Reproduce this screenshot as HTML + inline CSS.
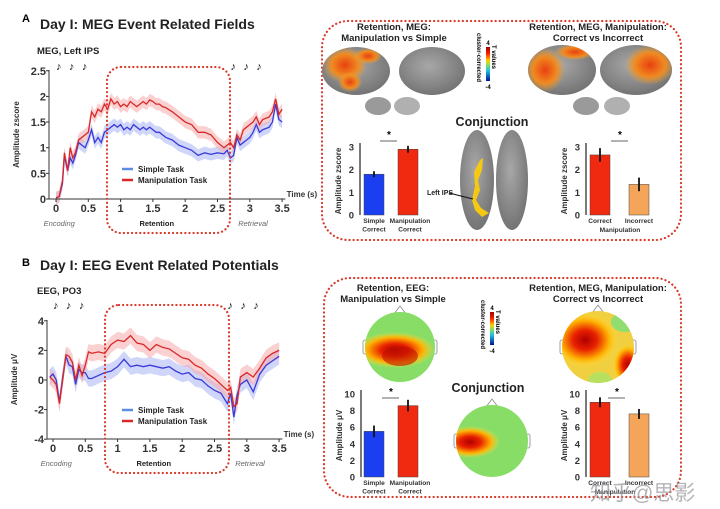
<!DOCTYPE html>
<html><head><meta charset="utf-8"><style>
html,body{margin:0;padding:0;background:#fff;}
svg{display:block;font-family:"Liberation Sans","Noto Sans CJK SC",sans-serif;}
.b{font-weight:bold;}
</style></head><body>
<svg id="fig" width="720" height="509" viewBox="0 0 720 509" xmlns="http://www.w3.org/2000/svg">
<defs>
<linearGradient id="cbar" x1="0" y1="0" x2="0" y2="1">
<stop offset="0" stop-color="#a00000"/><stop offset="0.2" stop-color="#ff2000"/><stop offset="0.4" stop-color="#ffd000"/><stop offset="0.55" stop-color="#70e070"/><stop offset="0.7" stop-color="#20c0e0"/><stop offset="1" stop-color="#0010a0"/>
</linearGradient>
<radialGradient id="brainG" cx="0.45" cy="0.4" r="0.65"><stop offset="0" stop-color="#a8a8a8"/><stop offset="1" stop-color="#707070"/></radialGradient>
<radialGradient id="hot" cx="0.5" cy="0.5" r="0.5"><stop offset="0" stop-color="#b00000"/><stop offset="0.35" stop-color="#e82000"/><stop offset="0.7" stop-color="#ffb000"/><stop offset="1" stop-color="#ffe040" stop-opacity="0"/></radialGradient>
<radialGradient id="orng" cx="0.5" cy="0.5" r="0.5"><stop offset="0" stop-color="#e84010"/><stop offset="0.6" stop-color="#f08a20"/><stop offset="1" stop-color="#f0a030" stop-opacity="0"/></radialGradient>
<clipPath id="h1"><circle cx="400" cy="347" r="35"/></clipPath>
<clipPath id="h2"><circle cx="598" cy="347" r="36"/></clipPath>
<clipPath id="h3"><circle cx="492" cy="441" r="36"/></clipPath>
<clipPath id="bA"><ellipse cx="356" cy="71" rx="34" ry="24"/></clipPath>
<clipPath id="bC"><ellipse cx="562" cy="70" rx="34" ry="25"/></clipPath>
<clipPath id="bD"><ellipse cx="636" cy="70" rx="36" ry="25"/></clipPath>
</defs>

<text x="22" y="22" font-size="11" class="b">A</text>
<text x="40" y="29" font-size="14" class="b" fill="#222">Day I: MEG Event Related Fields</text>
<text x="37" y="54" font-size="9.5" class="b" fill="#222">MEG, Left IPS</text>
<text x="22" y="266" font-size="11" class="b">B</text>
<text x="40" y="270" font-size="14" class="b" fill="#222">Day I: EEG Event Related Potentials</text>
<text x="37" y="294" font-size="9.5" class="b" fill="#222">EEG, PO3</text>

<g id="megChart"></g>
<g id="eegChart"></g>

<rect x="107" y="67" width="123" height="166" rx="14" fill="none" stroke="#d93a2a" stroke-width="2.2" stroke-dasharray="0.1 4" stroke-linecap="round"/>
<rect x="105" y="305" width="124" height="168" rx="14" fill="none" stroke="#d93a2a" stroke-width="2.2" stroke-dasharray="0.1 4" stroke-linecap="round"/>
<rect x="322" y="21" width="359" height="219" rx="26" fill="none" stroke="#d93a2a" stroke-width="2.2" stroke-dasharray="0.1 4" stroke-linecap="round"/>
<rect x="324" y="278" width="357" height="219" rx="26" fill="none" stroke="#d93a2a" stroke-width="2.2" stroke-dasharray="0.1 4" stroke-linecap="round"/>

<g font-size="9.5" class="b" fill="#222" text-anchor="middle">
<text x="394" y="30">Retention, MEG:</text>
<text x="394" y="41">Manipulation vs Simple</text>
<text x="598" y="30">Retention, MEG, Manipulation:</text>
<text x="598" y="41">Correct vs Incorrect</text>
<text x="492" y="126" font-size="12.5">Conjunction</text>
<text x="393" y="291">Retention, EEG:</text>
<text x="393" y="302">Manipulation vs Simple</text>
<text x="598" y="291">Retention, MEG, Manipulation:</text>
<text x="598" y="302">Correct vs Incorrect</text>
<text x="488" y="392" font-size="12.5">Conjunction</text>
</g>

<g>
<rect x="486" y="47" width="4" height="34" fill="url(#cbar)"/>
<text x="488" y="45" font-size="6" text-anchor="middle" class="b">4</text>
<text x="488" y="89" font-size="6" text-anchor="middle" class="b">-4</text>
<text transform="translate(492,45) rotate(90)" font-size="6" class="b">T values</text>
<text transform="translate(477,33) rotate(90)" font-size="6" class="b">cluster-corrected</text>
</g>
<g>
<rect x="490" y="312" width="4" height="33" fill="url(#cbar)"/>
<text x="492" y="310" font-size="6" text-anchor="middle" class="b">4</text>
<text x="492" y="353" font-size="6" text-anchor="middle" class="b">-4</text>
<text transform="translate(496,310) rotate(90)" font-size="6" class="b">T values</text>
<text transform="translate(481,300) rotate(90)" font-size="6" class="b">cluster-corrected</text>
</g>

<g>
<ellipse cx="356" cy="71" rx="34" ry="24" fill="url(#brainG)"/>
<g clip-path="url(#bA)"><ellipse cx="345" cy="65" rx="22" ry="18" fill="url(#orng)"/><ellipse cx="350" cy="82" rx="12" ry="10" fill="url(#orng)"/><ellipse cx="368" cy="56" rx="14" ry="8" fill="url(#orng)"/></g>
<ellipse cx="432" cy="71" rx="33" ry="24" fill="url(#brainG)"/>
<ellipse cx="378" cy="106" rx="13" ry="9" fill="#9a9a9a"/>
<ellipse cx="407" cy="106" rx="13" ry="9" fill="#b0b0b0"/>
</g>
<g>
<ellipse cx="562" cy="70" rx="34" ry="25" fill="url(#brainG)"/>
<g clip-path="url(#bC)"><ellipse cx="545" cy="70" rx="20" ry="22" fill="url(#orng)"/><ellipse cx="575" cy="52" rx="20" ry="8" fill="url(#orng)"/></g>
<ellipse cx="636" cy="70" rx="36" ry="25" fill="url(#brainG)"/>
<g clip-path="url(#bD)"><ellipse cx="650" cy="65" rx="25" ry="20" fill="url(#orng)"/></g>
<ellipse cx="586" cy="106" rx="13" ry="9" fill="#9a9a9a"/>
<ellipse cx="617" cy="106" rx="13" ry="9" fill="#b0b0b0"/>
</g>
<g>
<ellipse cx="477" cy="180" rx="17" ry="50" fill="url(#brainG)"/>
<ellipse cx="512" cy="180" rx="16" ry="50" fill="url(#brainG)"/>
<path d="M480,160 L483,158 482,170 478,180 480,190 476,200 481,208 489,213 482,217 475,210 472,200 475,186 474,172Z" fill="#f5c812"/>
<line x1="449" y1="193" x2="473" y2="199" stroke="#111" stroke-width="1"/>
<text x="427" y="195" font-size="7" class="b" fill="#222">Left IPS</text>
</g>

<g>
<path d="M394,314 L400,306 406,314Z" fill="#fff" stroke="#888" stroke-width="0.8"/>
<rect x="363" y="340" width="5" height="14" rx="2" fill="#fff" stroke="#888" stroke-width="0.8"/>
<rect x="432" y="340" width="5" height="14" rx="2" fill="#fff" stroke="#888" stroke-width="0.8"/>
<circle cx="400" cy="347" r="35" fill="#88dd66"/>
<g clip-path="url(#h1)"><ellipse cx="395" cy="350" rx="40" ry="18" fill="url(#hot)"/><ellipse cx="400" cy="356" rx="18" ry="10" fill="#c01000" opacity="0.6"/></g>
</g>
<g>
<path d="M592,313 L598,305 604,313Z" fill="#fff" stroke="#888" stroke-width="0.8"/>
<rect x="560" y="340" width="5" height="14" rx="2" fill="#fff" stroke="#888" stroke-width="0.8"/>
<rect x="631" y="340" width="5" height="14" rx="2" fill="#fff" stroke="#888" stroke-width="0.8"/>
<circle cx="598" cy="347" r="36" fill="#f0d040"/>
<g clip-path="url(#h2)"><ellipse cx="585" cy="340" rx="34" ry="28" fill="url(#hot)"/><ellipse cx="628" cy="365" rx="16" ry="22" fill="url(#hot)"/><ellipse cx="625" cy="322" rx="14" ry="10" fill="#90dd70"/><ellipse cx="600" cy="380" rx="12" ry="8" fill="#b8e060"/></g>
</g>
<g>
<path d="M486,407 L492,399 498,407Z" fill="#fff" stroke="#888" stroke-width="0.8"/>
<rect x="454" y="434" width="5" height="14" rx="2" fill="#fff" stroke="#888" stroke-width="0.8"/>
<rect x="525" y="434" width="5" height="14" rx="2" fill="#fff" stroke="#888" stroke-width="0.8"/>
<circle cx="492" cy="441" r="36" fill="#88dd66"/>
<g clip-path="url(#h3)"><ellipse cx="470" cy="442" rx="30" ry="16" fill="url(#hot)"/></g>
</g>

<g id="bars"></g>

<text x="590" y="500" font-size="21" fill="#9a9aa0" opacity="0.75">知乎@思影</text>
</svg>
<script>
// ---- MEG data ----
const megTimes = [0,0.05,0.1,0.13,0.18,0.22,0.26,0.3,0.35,0.4,0.45,0.5,0.55,0.6,0.65,0.7,0.75,0.8,0.85,0.9,0.95,1.0,1.05,1.1,1.15,1.2,1.25,1.3,1.35,1.4,1.45,1.5,1.55,1.6,1.65,1.7,1.8,1.9,2.0,2.1,2.2,2.3,2.4,2.5,2.6,2.65,2.7,2.75,2.8,2.85,2.9,2.95,3.0,3.05,3.1,3.15,3.2,3.3,3.35,3.4,3.45,3.5];
const megManip = [0.02,0.05,0.35,0.9,0.55,1.0,0.8,0.9,1.15,1.2,1.25,1.3,1.7,1.6,1.75,1.7,1.85,1.75,1.95,1.85,1.9,1.8,1.85,1.8,1.9,1.85,1.8,1.85,1.9,1.85,1.93,1.9,1.85,1.85,1.8,1.78,1.7,1.6,1.5,1.45,1.3,1.3,1.25,1.1,1.0,1.05,1.1,1.0,1.25,1.15,1.35,1.4,1.45,1.5,1.6,1.45,1.55,1.6,1.7,1.95,1.65,1.75];
const megSimple = [0.02,0.05,0.3,0.85,0.55,0.8,0.7,0.85,1.1,1.05,1.0,1.15,1.35,1.1,1.2,1.1,1.3,1.35,1.4,1.45,1.4,1.45,1.35,1.4,1.35,1.45,1.4,1.35,1.4,1.35,1.4,1.35,1.3,1.3,1.25,1.2,1.15,1.05,1.0,0.95,0.85,0.9,0.87,0.9,0.88,0.95,0.8,0.85,1.2,1.05,1.1,1.15,1.2,1.3,1.45,1.3,1.35,1.4,1.5,1.85,1.55,1.5];
const megYTicks = [0,0.5,1,1.5,2,2.5];
const megYTickLabels = ["0","0.5","1","1.5","2","2.5"];
const xTicks = [0,0.5,1,1.5,2,2.5,3,3.5];
const xTickLabels = ["0","0.5","1","1.5","2","2.5","3","3.5"];
// ---- EEG data ----
const eegTimes = [-0.05,0,0.05,0.1,0.15,0.2,0.25,0.3,0.35,0.4,0.45,0.5,0.55,0.6,0.7,0.8,0.9,1.0,1.1,1.2,1.3,1.4,1.5,1.6,1.7,1.8,1.9,2.0,2.1,2.2,2.3,2.4,2.5,2.6,2.7,2.75,2.8,2.85,2.9,3.0,3.1,3.2,3.3,3.4,3.5];
const eegManip = [0.2,0,-0.3,-1.6,0,1.7,1.6,1.2,0,1.0,0.3,1.0,1.9,1.8,1.9,1.8,2.4,2.7,2.6,3.0,2.5,2.4,2.0,2.4,2.2,2.1,1.8,1.5,1.4,1.0,0.8,0.4,0.1,-0.3,-0.7,-0.5,-1.8,-1.6,0.2,0.5,0.2,0.8,1.5,1.8,2.0];
const eegSimple = [0.2,0.4,0,-1.5,0.2,1.6,1.0,0.9,-0.3,0.7,0.5,0.5,0.1,0.1,0.3,0.5,0.6,0.9,1.4,0.9,1.0,0.9,1.0,0.9,0.8,0.9,0.6,0.4,0.5,0.1,0,-0.4,-0.7,-0.9,-1.6,-0.9,-2.5,-1.0,-0.3,0,-0.8,0.4,1.0,1.3,1.6];
const eegYTicks = [-4,-2,0,2,4];
const eegYTickLabels = ["-4","-2","0","2","4"];
// ---- bar data ----
const megBarLabels1 = ["Simple|Correct","Manipulation|Correct"];
const megBarValues1 = [1.8,2.9];
const megBarErr1 = [0.13,0.15];
const megBarValues2 = [2.65,1.35];
const megBarErr2 = [0.3,0.3];
const eegBarValues1 = [5.5,8.6];
const eegBarErr1 = [0.7,0.7];
const eegBarValues2 = [9.0,7.6];
const eegBarErr2 = [0.6,0.6];
const megBarTicks = [0,1,2,3];
const eegBarTicks = [0,2,4,6,8,10];

const NS="http://www.w3.org/2000/svg";
function mk(tag, attrs, parent){const e=document.createElementNS(NS,tag);for(const k in attrs)e.setAttribute(k,attrs[k]);parent.appendChild(e);return e;}

function lineChart(g, cfg){
  const {times,manip,simple,xs,ys,yTicks,yLabels,axX,axTop,axBottom,band,ylab,noteY,tickY,phaseY,legY}=cfg;
  function bandPath(vals){let up=times.map((t,i)=>xs(t)+","+ys(vals[i]+band));let lo=times.map((t,i)=>xs(t)+","+ys(vals[i]-band)).reverse();return "M"+up.join(" L")+" L"+lo.join(" L")+"Z";}
  const bs=mk("path",{d:bandPath(simple),fill:"#a9b4f5",opacity:"0.55"},g);
  
  
  const bm=mk("path",{d:bandPath(manip),fill:"#f7a9a9",opacity:"0.55"},g);
  
  
  const ls=mk("polyline",{points:times.map((t,i)=>xs(t)+","+ys(simple[i])).join(" "),fill:"none",stroke:"#3a3ad8","stroke-width":"1.3"},g);
  
  
  const lm=mk("polyline",{points:times.map((t,i)=>xs(t)+","+ys(manip[i])).join(" "),fill:"none",stroke:"#d82828","stroke-width":"1.3"},g);
  
  
  const ya=mk("line",{x1:axX,y1:axTop,x2:axX,y2:axBottom,stroke:"#333","stroke-width":"1"},g);
  
  
  const xa=mk("line",{x1:axX,y1:axBottom,x2:xs(3.55),y2:axBottom,stroke:"#333","stroke-width":"1"},g);
  
  
  yTicks.forEach((v,i)=>{
    mk("line",{x1:axX-3,y1:ys(v),x2:axX,y2:ys(v),stroke:"#333"},g);
    const t=mk("text",{x:axX-3,y:ys(v)+4,"font-size":"11","font-weight":"bold","text-anchor":"end",fill:"#333"},g);
    t.textContent=yLabels[i];
    
    
  });
  xTicks.forEach((v,i)=>{
    mk("line",{x1:xs(v),y1:axBottom,x2:xs(v),y2:axBottom+3,stroke:"#333"},g);
    const t=mk("text",{x:xs(v),y:tickY,"font-size":"11","font-weight":"bold","text-anchor":"middle",fill:"#333"},g);
    t.textContent=xTickLabels[i];
    
    
  });
  const tt=mk("text",{x:xs(3.57),y:axBottom-2,"font-size":"8","font-weight":"bold",fill:"#333"},g);
  tt.textContent="Time (s)";
  
  
  const yl=mk("text",{transform:`translate(${axX-30},${(axTop+axBottom)/2}) rotate(-90)`,"font-size":"8","font-weight":"bold","text-anchor":"middle",fill:"#333"},g);
  yl.textContent=ylab;
  
  
  [[0.05,"Encoding",true],[1.25,"Retention",false],[3.05,"Retrieval",true]].forEach(p=>{
    const t=mk("text",{x:xs(p[0])+(p[2]?0:20),y:phaseY,"font-size":"7.5","text-anchor":"middle",fill:p[2]?"#666":"#222","font-style":p[2]?"italic":"normal","font-weight":p[2]?"normal":"bold"},g);
    t.textContent=p[1];
    
    
  });
  [0,0.2,0.4,2.7,2.9,3.1].forEach(tm=>{
    const t=mk("text",{x:xs(tm),y:noteY,"font-size":"11",fill:"#111"},g);
    t.textContent="♪";
    
    
  });
  const l1=mk("line",{x1:122,y1:legY,x2:133,y2:legY,stroke:"#5a8ee0","stroke-width":"2.5"},g);
  
  
  const t1=mk("text",{x:138,y:legY+3,"font-size":"8","font-weight":"bold",fill:"#222"},g);t1.textContent="Simple Task";
  
  
  const l2=mk("line",{x1:122,y1:legY+11,x2:133,y2:legY+11,stroke:"#d82828","stroke-width":"2.5"},g);
  
  
  const t2=mk("text",{x:138,y:legY+14,"font-size":"8","font-weight":"bold",fill:"#222"},g);t2.textContent="Manipulation Task";
  
  
}

const xM=t=>56+t*64.6, yM=v=>199-v*51.3;
lineChart(document.getElementById("megChart"),{times:megTimes,manip:megManip,simple:megSimple,xs:xM,ys:yM,yTicks:megYTicks,yLabels:megYTickLabels,axX:49,axTop:70,axBottom:199,band:0.12,ylab:"Amplitude zscore",noteY:70,tickY:212,phaseY:226,legY:169});
const xE=t=>53+t*64.6, yE=v=>380-v*14.8;
lineChart(document.getElementById("eegChart"),{times:eegTimes,manip:eegManip,simple:eegSimple,xs:xE,ys:yE,yTicks:eegYTicks,yLabels:eegYTickLabels,axX:47,axTop:320,axBottom:439,band:0.55,ylab:"Amplitude \u03bcV",noteY:309,tickY:452,phaseY:466,legY:410});

function barChart(cfg){
  const g=document.getElementById("bars");
  const {axX,y0,yTop,max,ticks,vals,errs,colors,labels,ylab,bx,starX,starY,extra}=cfg;
  const ys=v=>y0-(v/max)*(y0-yTop);
  const ax=mk("line",{x1:axX,y1:ys(max)-4,x2:axX,y2:y0,stroke:"#222","stroke-width":"1.2"},g);
  
  
  ticks.forEach(v=>{
    const t=mk("text",{x:axX-6,y:ys(v)+3.5,"font-size":"9.5","font-weight":"bold","text-anchor":"end",fill:"#333"},g);
    t.textContent=String(v);
    
    
  });
  const yl=mk("text",{transform:`translate(${axX-19},${(y0+yTop)/2}) rotate(-90)`,"font-size":"8","font-weight":"bold","text-anchor":"middle",fill:"#333"},g);
  yl.textContent=ylab;
  
  
  vals.forEach((v,i)=>{
    const r=mk("rect",{x:bx[i],y:ys(v),width:20,height:y0-ys(v),fill:colors[i],stroke:"#444","stroke-width":"0.5"},g);
    
    
    const e=mk("line",{x1:bx[i]+10,y1:ys(v+errs[i]),x2:bx[i]+10,y2:ys(v-errs[i]),stroke:"#111","stroke-width":"1.8"},g);
    
    
    if(labels){labels[i].split("|").forEach((s,k)=>{
      const t=mk("text",{x:bx[i]+10+(i===1&&labels[i].length>12?2:0),y:y0+8+k*8.5,"font-size":"6.6","font-weight":"bold","text-anchor":"middle",fill:"#333"},g);
      t.textContent=s;
      
      
    });}
  });
  const sl=mk("line",{x1:starX-9,y1:starY+4,x2:starX+8,y2:starY+4,stroke:"#333","stroke-width":"0.8"},g);
  
  
  const st=mk("text",{x:starX,y:starY+1,"font-size":"10","font-weight":"bold","text-anchor":"middle"},g);
  st.textContent="*";
  
  
  if(extra){const t=mk("text",{x:extra[0],y:extra[1],"font-size":"6.6","font-weight":"bold","text-anchor":"middle",fill:"#333"},g);t.textContent=extra[2];
    
    }
}
barChart({axX:360,y0:215,yTop:147,max:3,ticks:megBarTicks,vals:megBarValues1,errs:megBarErr1,colors:["#1a3ef0","#f02a10"],labels:megBarLabels1,ylab:"Amplitude zscore",bx:[364,398],starX:389,starY:137});
barChart({axX:586,y0:215,yTop:147,max:3,ticks:megBarTicks,vals:megBarValues2,errs:megBarErr2,colors:["#f02a10","#f5a55a"],labels:["Correct","Incorrect"],ylab:"Amplitude zscore",bx:[590,629],starX:620,starY:137,extra:[620,232,"Manipulation"]});
barChart({axX:361,y0:477,yTop:394,max:10,ticks:eegBarTicks,vals:eegBarValues1,errs:eegBarErr1,colors:["#1a3ef0","#f02a10"],labels:megBarLabels1,ylab:"Amplitude \u03bcV",bx:[364,398],starX:391,starY:394});
barChart({axX:586,y0:477,yTop:394,max:10,ticks:eegBarTicks,vals:eegBarValues2,errs:eegBarErr2,colors:["#f02a10","#f5a55a"],labels:["Correct","Incorrect"],ylab:"Amplitude \u03bcV",bx:[590,629],starX:617,starY:394,extra:[615,494,"Manipulation"]});
</script>
</body></html>
